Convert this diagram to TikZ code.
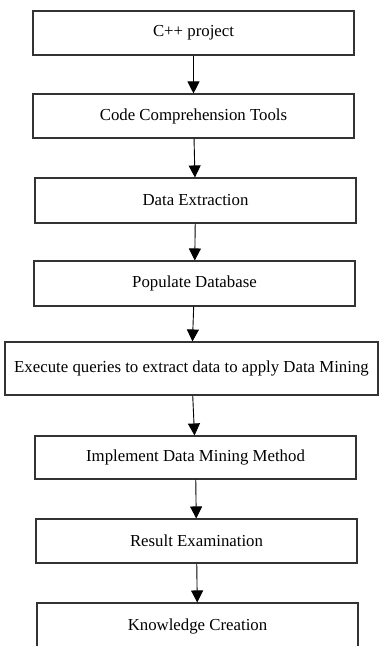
\documentclass[tikz,border=0pt]{standalone}
\usepackage{fontspec}
\setmainfont{Liberation Serif}
\usetikzlibrary{arrows.meta}

\begin{document}
\begin{tikzpicture}[x=1pt,y=-1pt,
    box/.style={rectangle,draw=black!80,line width=1.1pt,minimum height=44pt,minimum width=321pt,inner sep=0pt,font=\fontsize{16.8}{20}\selectfont},
    flow/.style={line width=0.9pt,-{Triangle[length=12pt,width=12pt]}}]
    \useasboundingbox (0,0) rectangle (379,646);

    \node[box] (proj) at (193.5,33) {C++ project};
    \node[box] (tools) at (193.5,116) {Code Comprehension Tools};
    \node[box,minimum height=45pt] (extract) at (195.5,200.5) {Data Extraction};
    \node[box,minimum height=45pt] (db) at (194.5,283.5) {Populate Database};
    \node[box,minimum height=53pt,minimum width=373pt] (query) at (191.5,368.5) {Execute queries to extract data to apply Data Mining};
    \node[box,minimum height=43pt] (mine) at (195.5,457.5) {Implement Data Mining Method};
    \node[box] (result) at (196.5,541) {Result Examination};
    \node[box,minimum height=46pt] (know) at (197.5,626) {Knowledge Creation};

    \draw[flow]
        (proj) -- (tools);
    \draw[flow]
        (tools) -- (extract);
    \draw[flow]
        (extract) -- (db);
    \draw[flow]
        (db) -- (query);
    \draw[flow]
        (query) -- (mine);
    \draw[flow]
        (mine) -- (result);
    \draw[flow]
        (result) -- (know);
\end{tikzpicture}
\end{document}
